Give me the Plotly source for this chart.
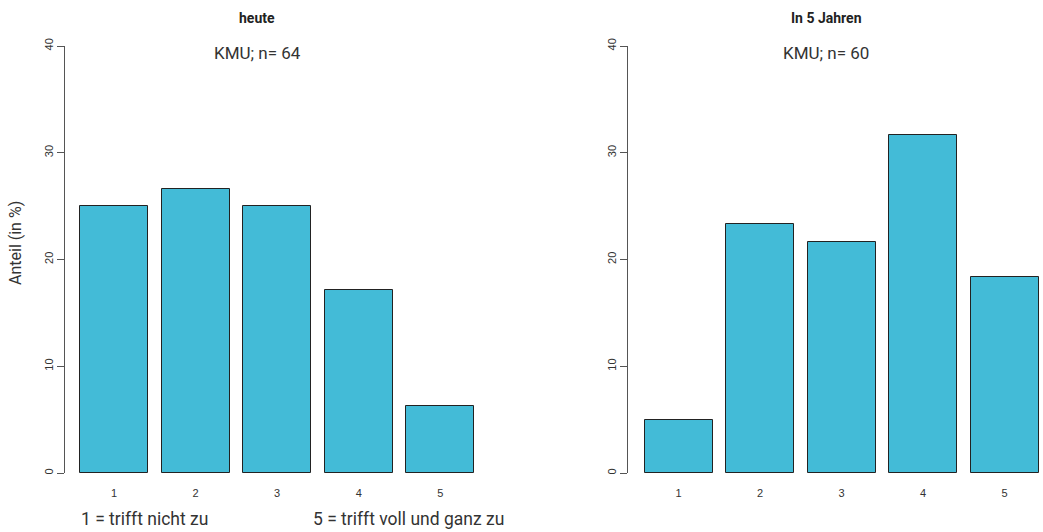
import plotly.graph_objects as go

W, H = 1043, 532

categories = ["1", "2", "3", "4", "5"]
heute_values = [25.0, 26.5625, 25.0, 17.1875, 6.25]
jahren_values = [5.0, 23.3333, 21.6667, 31.6667, 18.3333]
panel_titles = ["heute", "In 5 Jahren"]
panel_subtitles = ["KMU; n= 64", "KMU; n= 60"]
y_ticks = [0, 10, 20, 30, 40]
y_title = "Anteil (in %)"
foot_left = "1 = trifft nicht zu"
foot_right = "5 = trifft voll und ganz zu"

BAR = "#43BBD7"
FONT = "Roboto"

def px(x):
    return x / W

def py(y):
    return (H - y) / H

xpos = [1, 2, 3, 4, 5]

fig = go.Figure()
fig.add_trace(go.Bar(x=xpos, y=heute_values, width=0.833, marker=dict(color=BAR, line=dict(color="#222222", width=1)),
                     xaxis="x", yaxis="y", showlegend=False, hoverinfo="y"))
fig.add_trace(go.Bar(x=xpos, y=jahren_values, width=0.833, marker=dict(color=BAR, line=dict(color="#222222", width=1)),
                     xaxis="x2", yaxis="y2", showlegend=False, hoverinfo="y"))

yd = [py(473), py(46)]
xa = dict(showgrid=False, zeroline=False, showline=False, ticks="", tickmode="array", tickvals=xpos,
          ticktext=categories, tickfont=dict(family="Liberation Sans", size=11, color="#333333"),
          ticklabelstandoff=12, automargin=False)
ya = dict(range=[0, 40], showgrid=False, zeroline=False, showline=True, linecolor="#555555", linewidth=1,
          ticks="outside", ticklen=7, tickcolor="#555555", tickmode="array", tickvals=y_ticks,
          tickangle=-90, tickfont=dict(family="Liberation Sans", size=11, color="#333333"), automargin=False)

fig.update_layout(
    width=W, height=H, margin=dict(l=0, r=0, t=0, b=0, autoexpand=False),
    paper_bgcolor="white", plot_bgcolor="white", bargap=0,
    xaxis=dict(domain=[px(65), px(65 + 5.2 * 81.6)], range=[0.4, 5.6], anchor="y", **xa),
    yaxis=dict(domain=yd, anchor="x", **ya),
    xaxis2=dict(domain=[px(628), 1.0], range=[0.38, 5.47], anchor="y2", **xa),
    yaxis2=dict(domain=yd, anchor="x2", **ya),
)

ann = []
for cx, t, s in [(257, panel_titles[0], panel_subtitles[0]), (826, panel_titles[1], panel_subtitles[1])]:
    ann.append(dict(x=px(cx), y=py(18), xref="paper", yref="paper", text="<b>" + t + "</b>", showarrow=False,
                    xanchor="center", yanchor="middle", font=dict(family=FONT, size=14, color="#222222")))
    ann.append(dict(x=px(cx), y=py(53), xref="paper", yref="paper", text=s, showarrow=False,
                    xanchor="center", yanchor="middle", font=dict(family=FONT, size=17, color="#333333")))
ann.append(dict(x=px(16), y=py(243), xref="paper", yref="paper", text=y_title, showarrow=False, textangle=-90,
                xanchor="center", yanchor="middle", font=dict(family=FONT, size=16, color="#333333")))
ann.append(dict(x=px(79), y=py(519), xref="paper", yref="paper", text=foot_left, showarrow=False,
                xanchor="left", yanchor="middle", font=dict(family=FONT, size=17.5, color="#333333")))
ann.append(dict(x=px(311), y=py(519), xref="paper", yref="paper", text=foot_right, showarrow=False,
                xanchor="left", yanchor="middle", font=dict(family=FONT, size=17.5, color="#333333")))
fig.update_layout(annotations=ann)

fig.write_html("out.html", config={"displayModeBar": False},
               post_script="document.body.style.margin='0';document.body.style.overflow='hidden';")
